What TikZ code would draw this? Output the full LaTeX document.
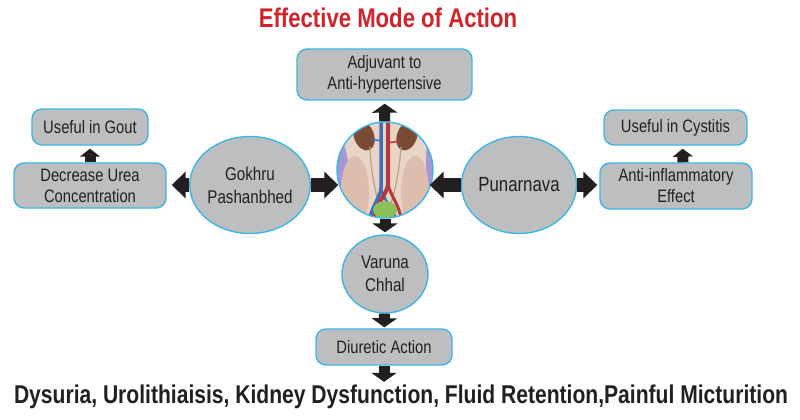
\documentclass[tikz,border=0pt]{standalone}
\usepackage{fontspec}
\setmainfont{Liberation Sans}[FakeStretch=0.82]
\usetikzlibrary{arrows.meta,shapes.geometric}
\definecolor{boxgray}{HTML}{BDBEC0}
\definecolor{boxline}{HTML}{3DB6E6}
\definecolor{txtdark}{HTML}{231F20}
\definecolor{titlered}{HTML}{D2232A}
\definecolor{skin}{HTML}{E9D5C8}
\definecolor{flesh}{HTML}{DDBDAE}
\definecolor{lav}{HTML}{A698D6}
\definecolor{kidbrown}{HTML}{7A4A32}
\definecolor{artred}{HTML}{B2383A}
\definecolor{veinblue}{HTML}{3F6FB8}
\definecolor{uretan}{HTML}{B8A77C}
\definecolor{bladgreen}{HTML}{8CBF5A}

\begin{document}
\begin{tikzpicture}[x=1pt,y=-1pt,
  effect/.style={rectangle,rounded corners=10pt,draw=boxline,line width=1.4pt,fill=boxgray,
    text=txtdark,font=\fontsize{18}{21}\selectfont,align=center,inner sep=0pt},
  herb/.style={ellipse,draw=boxline,line width=1.4pt,fill=boxgray,
    text=txtdark,font=\fontsize{18.5}{23}\selectfont,align=center,inner sep=0pt},
  hub/.style={circle,draw=boxline,line width=1.4pt,minimum size=96pt,inner sep=0pt},
  harr/.style={line width=14pt,draw=txtdark,-{Triangle[length=14pt,width=26pt]}},
  varr/.style={line width=11pt,draw=txtdark,-{Triangle[length=9pt,width=25pt]}},
  sarr/.style={line width=11pt,draw=txtdark,-{Triangle[length=8pt,width=20pt]}}]
\path[use as bounding box,fill=white](0,0) rectangle (800,420);
%
\node[text=titlered,font=\fontsize{27}{30}\selectfont\bfseries](title) at (388,18){Effective Mode of Action};
%
\begin{scope}
\clip(385,170) circle (48pt);
\fill[skin](330,115) rectangle (440,225);
\fill[lav](336,178) ellipse (13pt and 42pt);
\fill[lav](437,160) ellipse (11pt and 40pt);
\fill[flesh](355,192) ellipse (14pt and 36pt);
\fill[flesh](415,192) ellipse (14pt and 36pt);
\fill[skin](385,185) ellipse (15pt and 45pt);
\fill[kidbrown,rotate around={20:(364,136)}](364,136) ellipse (10pt and 15pt);
\fill[kidbrown,rotate around={-20:(407,136)}](407,136) ellipse (10pt and 15pt);
\draw[uretan,line width=1.3pt](370,147) .. controls (371,175) and (376,195) .. (380,206);
\draw[uretan,line width=1.3pt](401,147) .. controls (399,175) and (394,195) .. (390,206);
\draw[veinblue,line width=1.5pt](381,141) -- (371,139);
\draw[artred,line width=1.5pt](388,143) -- (400,141);
\draw[veinblue,line width=3.5pt](381,118) -- (381,188) .. controls (380,198) and (372,205) .. (368,225);
\draw[veinblue,line width=2.5pt](381,188) .. controls (383,200) and (394,208) .. (398,225);
\draw[artred,line width=4pt](388,118) -- (388,185) .. controls (386,196) and (376,202) .. (372,225);
\draw[artred,line width=3pt](388,185) .. controls (391,196) and (399,204) .. (403,225);
\fill[bladgreen](385,210) ellipse (12pt and 9pt);
\end{scope}
\node[hub](kid) at (385,170){};
%
\node[effect,minimum width=175pt,minimum height=51pt](adj) at (384.5,74.5){Adjuvant to\\Anti-hypertensive};
\node[herb,minimum width=106pt,minimum height=97pt](gokhru) at (250,185){Gokhru\\Pashanbhed};
\node[herb,minimum width=106pt,minimum height=97pt,font=\fontsize{20.5}{24}\selectfont](punar) at (519,185){Punarnava};
\node[herb,minimum width=86pt,minimum height=78pt](varuna) at (385,274){Varuna\\Chhal};
\node[effect,minimum width=136pt,minimum height=36pt](diur) at (384,347){Diuretic Action};
\node[effect,minimum width=152pt,minimum height=45pt](urea) at (90,185.5){Decrease Urea\\Concentration};
\node[effect,minimum width=116pt,minimum height=36pt](gout) at (90,127){Useful in Gout};
\node[effect,minimum width=152pt,minimum height=46pt](antiinf) at (676,186){Anti-inflammatory\\Effect};
\node[effect,minimum width=143pt,minimum height=35pt](cyst) at (675.5,127.5){Useful in Cystitis};
\node[text=txtdark,font=\fontsize{25.7}{30}\selectfont\bfseries,inner sep=0pt](sympt) at (401,397)
  {Dysuria, Urolithiaisis, Kidney Dysfunction, Fluid Retention,Painful Micturition};
%
\draw[harr,shorten >=5pt](gokhru.west) -- (urea.east |- gokhru.west);
\draw[harr,shorten >=-2pt](gokhru.east) -- (kid.west |- gokhru.east);
\draw[harr,shorten >=-4pt](punar.west) -- (kid.east |- punar.west);
\draw[harr,shorten >=2pt](punar.east) -- (antiinf.west |- punar.east);
\draw[varr,shorten >=3pt](kid) -- (adj);
\draw[varr,shorten >=2pt](kid) -- (varuna);
\draw[varr,shorten >=1pt](varuna) -- (diur);
\draw[varr,shorten >=3pt](diur.south) -- (diur.south |- sympt.north);
\draw[sarr,shorten >=3pt](urea) -- (gout);
\draw[sarr,shorten >=3pt]([xshift=7pt]antiinf.north) -- ([xshift=7pt]cyst.south);
\end{tikzpicture}
\end{document}
